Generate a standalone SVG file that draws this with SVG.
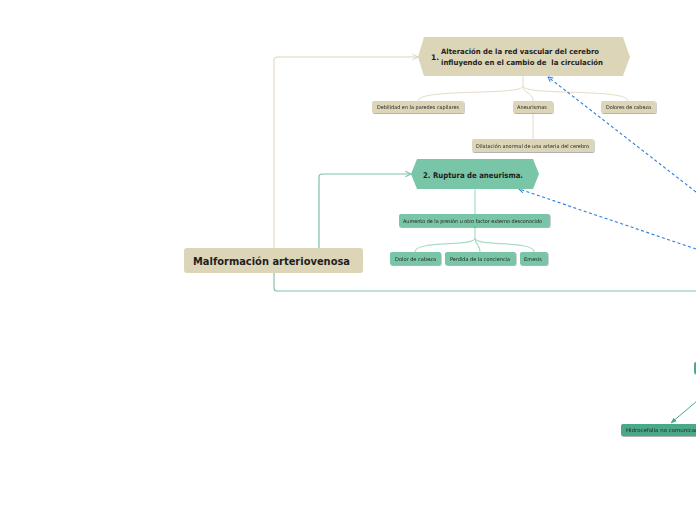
<svg xmlns="http://www.w3.org/2000/svg" width="696" height="520" viewBox="0 0 696 520">
<style>
.t{font-family:"DejaVu Sans","Liberation Sans",sans-serif;fill:#1e1e1e}
.b{font-weight:bold}
.s{font-size:5.2px}
.beige{fill:#ddd5b7}
.teal{fill:#78c5a7}
.dteal{fill:#4aa98a}
.cb{fill:none;stroke:#e3dcc4;stroke-width:1}
.ct{fill:none;stroke:#a9dcc8;stroke-width:1.2}
.dash{fill:none;stroke:#2b7de0;stroke-width:1.1;stroke-dasharray:3 2.5}
</style>
<defs>
<filter id="sh" x="-10%" y="-30%" width="120%" height="180%">
<feDropShadow dx="0.6" dy="1" stdDeviation="0.7" flood-color="#000" flood-opacity="0.3"/>
</filter>
<marker id="ab" viewBox="0 0 10 10" refX="9" refY="5" markerWidth="7" markerHeight="7" orient="auto" markerUnits="userSpaceOnUse">
<path d="M1,1 L9,5 L1,9" fill="none" stroke="#d8cfae" stroke-width="1.3"/>
</marker>
<marker id="at" viewBox="0 0 10 10" refX="9" refY="5" markerWidth="7" markerHeight="7" orient="auto" markerUnits="userSpaceOnUse">
<path d="M1,1 L9,5 L1,9" fill="none" stroke="#78c5a7" stroke-width="1.5"/>
</marker>
<marker id="abl" viewBox="0 0 10 10" refX="9" refY="5" markerWidth="6" markerHeight="6" orient="auto" markerUnits="userSpaceOnUse">
<path d="M1,1 L9,5 L1,9" fill="none" stroke="#2b7de0" stroke-width="1.6"/>
</marker>
<marker id="adt" viewBox="0 0 10 10" refX="9" refY="5" markerWidth="6" markerHeight="6" orient="auto" markerUnits="userSpaceOnUse">
<path d="M0,1 L10,5 L0,9 Z" fill="#4aa98a"/>
</marker>
</defs>

<g id="connectors">
<path class="cb" d="M274,248 V60 Q274,57 277,57 H418" marker-end="url(#ab)" style="stroke:#ddd4b5"/>
<path class="ct" d="M319,248 V177 Q319,174 322,174 H411" marker-end="url(#at)" style="stroke:#78c5a7"/>
<path fill="none" stroke="#7cc4ad" stroke-width="1.2" d="M274,273 V288 Q274,291 277,291 H696"/>
<path class="cb" d="M523,76 V86 C523,96 418,88 418,101"/>
<path class="cb" d="M523,86 C523,94 533,92 533,101"/>
<path class="cb" d="M523,86 C523,96 628,88 628,101"/>
<path class="cb" d="M533,113 V139"/>
<path class="ct" d="M475,189 V214"/>
<path class="ct" d="M475,227 V238 C475,247 415,240 415,252"/>
<path class="ct" d="M475,238 C475,245 480,244 480,252"/>
<path class="ct" d="M475,238 C475,247 534,240 534,252"/>
<path class="dash" d="M696,192 L548,77" marker-end="url(#abl)"/>
<path class="dash" d="M696,249 L519,189" marker-end="url(#abl)"/>
<path fill="none" stroke="#4aa98a" stroke-width="1" d="M697,401 L671,423" marker-end="url(#adt)"/>
</g>

<g id="main">
<rect class="beige" x="184" y="248" width="179" height="25" rx="3"/>
<text class="t b" x="193" y="265" font-size="10.5" textLength="157" lengthAdjust="spacingAndGlyphs">Malformación arteriovenosa</text>
</g>

<g id="n1">
<polygon class="beige" points="418,57 424,37 623,37 630,57 623,76 424,76"/>
<text class="t b" x="431" y="60" font-size="7.5">1.</text>
<text class="t b" x="441" y="54" font-size="7.3" textLength="158" lengthAdjust="spacingAndGlyphs">Alteración de la red vascular del cerebro</text>
<text class="t b" x="441" y="65" font-size="7.3" textLength="162" lengthAdjust="spacingAndGlyphs" xml:space="preserve">influyendo en el cambio de  la circulación</text>
</g>

<g id="n1a" filter="url(#sh)">
<rect class="beige" x="372" y="101" width="92" height="12" rx="2"/>
<text class="t s" x="377" y="109" textLength="82" lengthAdjust="spacingAndGlyphs">Debilidad en la paredes capilares</text>
</g>
<g id="n1b" filter="url(#sh)">
<rect class="beige" x="513" y="101" width="40" height="12" rx="2"/>
<text class="t s" x="517" y="109" textLength="30" lengthAdjust="spacingAndGlyphs">Aneurismas</text>
</g>
<g id="n1c" filter="url(#sh)">
<rect class="beige" x="601" y="101" width="55" height="12" rx="2"/>
<text class="t s" x="606" y="109" textLength="45" lengthAdjust="spacingAndGlyphs">Dolores de cabeza</text>
</g>
<g id="n1d" filter="url(#sh)">
<rect class="beige" x="472" y="139" width="122" height="13" rx="2"/>
<text class="t s" x="476" y="147.5" textLength="113" lengthAdjust="spacingAndGlyphs">Dilatación anormal de una arteria del cerebro</text>
</g>

<g id="n2">
<polygon class="teal" points="411,174 417,159 533,159 539,174 533,189 417,189"/>
<text class="t b" x="423" y="177.5" font-size="7.8" textLength="100" lengthAdjust="spacingAndGlyphs">2. Ruptura de aneurisma.</text>
</g>

<g id="n2a" filter="url(#sh)">
<rect class="teal" x="399" y="214" width="151" height="13" rx="2"/>
<text class="t s" x="403" y="222.5" textLength="139" lengthAdjust="spacingAndGlyphs">Aumento de la presión u otro factor externo desconocido</text>
</g>
<g id="n2b" filter="url(#sh)">
<rect class="teal" x="390" y="252" width="51" height="13" rx="2"/>
<text class="t s" x="395" y="260.5" textLength="41" lengthAdjust="spacingAndGlyphs">Dolor de cabeza</text>
</g>
<g id="n2c" filter="url(#sh)">
<rect class="teal" x="445" y="252" width="71" height="13" rx="2"/>
<text class="t s" x="450" y="260.5" textLength="60" lengthAdjust="spacingAndGlyphs">Perdida de la conciencia</text>
</g>
<g id="n2d" filter="url(#sh)">
<rect class="teal" x="520" y="252" width="28" height="13" rx="2"/>
<text class="t s" x="524" y="260.5" textLength="18" lengthAdjust="spacingAndGlyphs">Emesis</text>
</g>

<g id="n3" filter="url(#sh)">
<rect class="dteal" x="694" y="362" width="10" height="12" rx="2"/>
</g>

<g id="n4" filter="url(#sh)">
<rect class="dteal" x="621" y="424" width="90" height="12" rx="2"/>
<text class="t s" x="626" y="432" textLength="78" lengthAdjust="spacingAndGlyphs">Hidrocefalia no comunicante</text>
</g>
</svg>
